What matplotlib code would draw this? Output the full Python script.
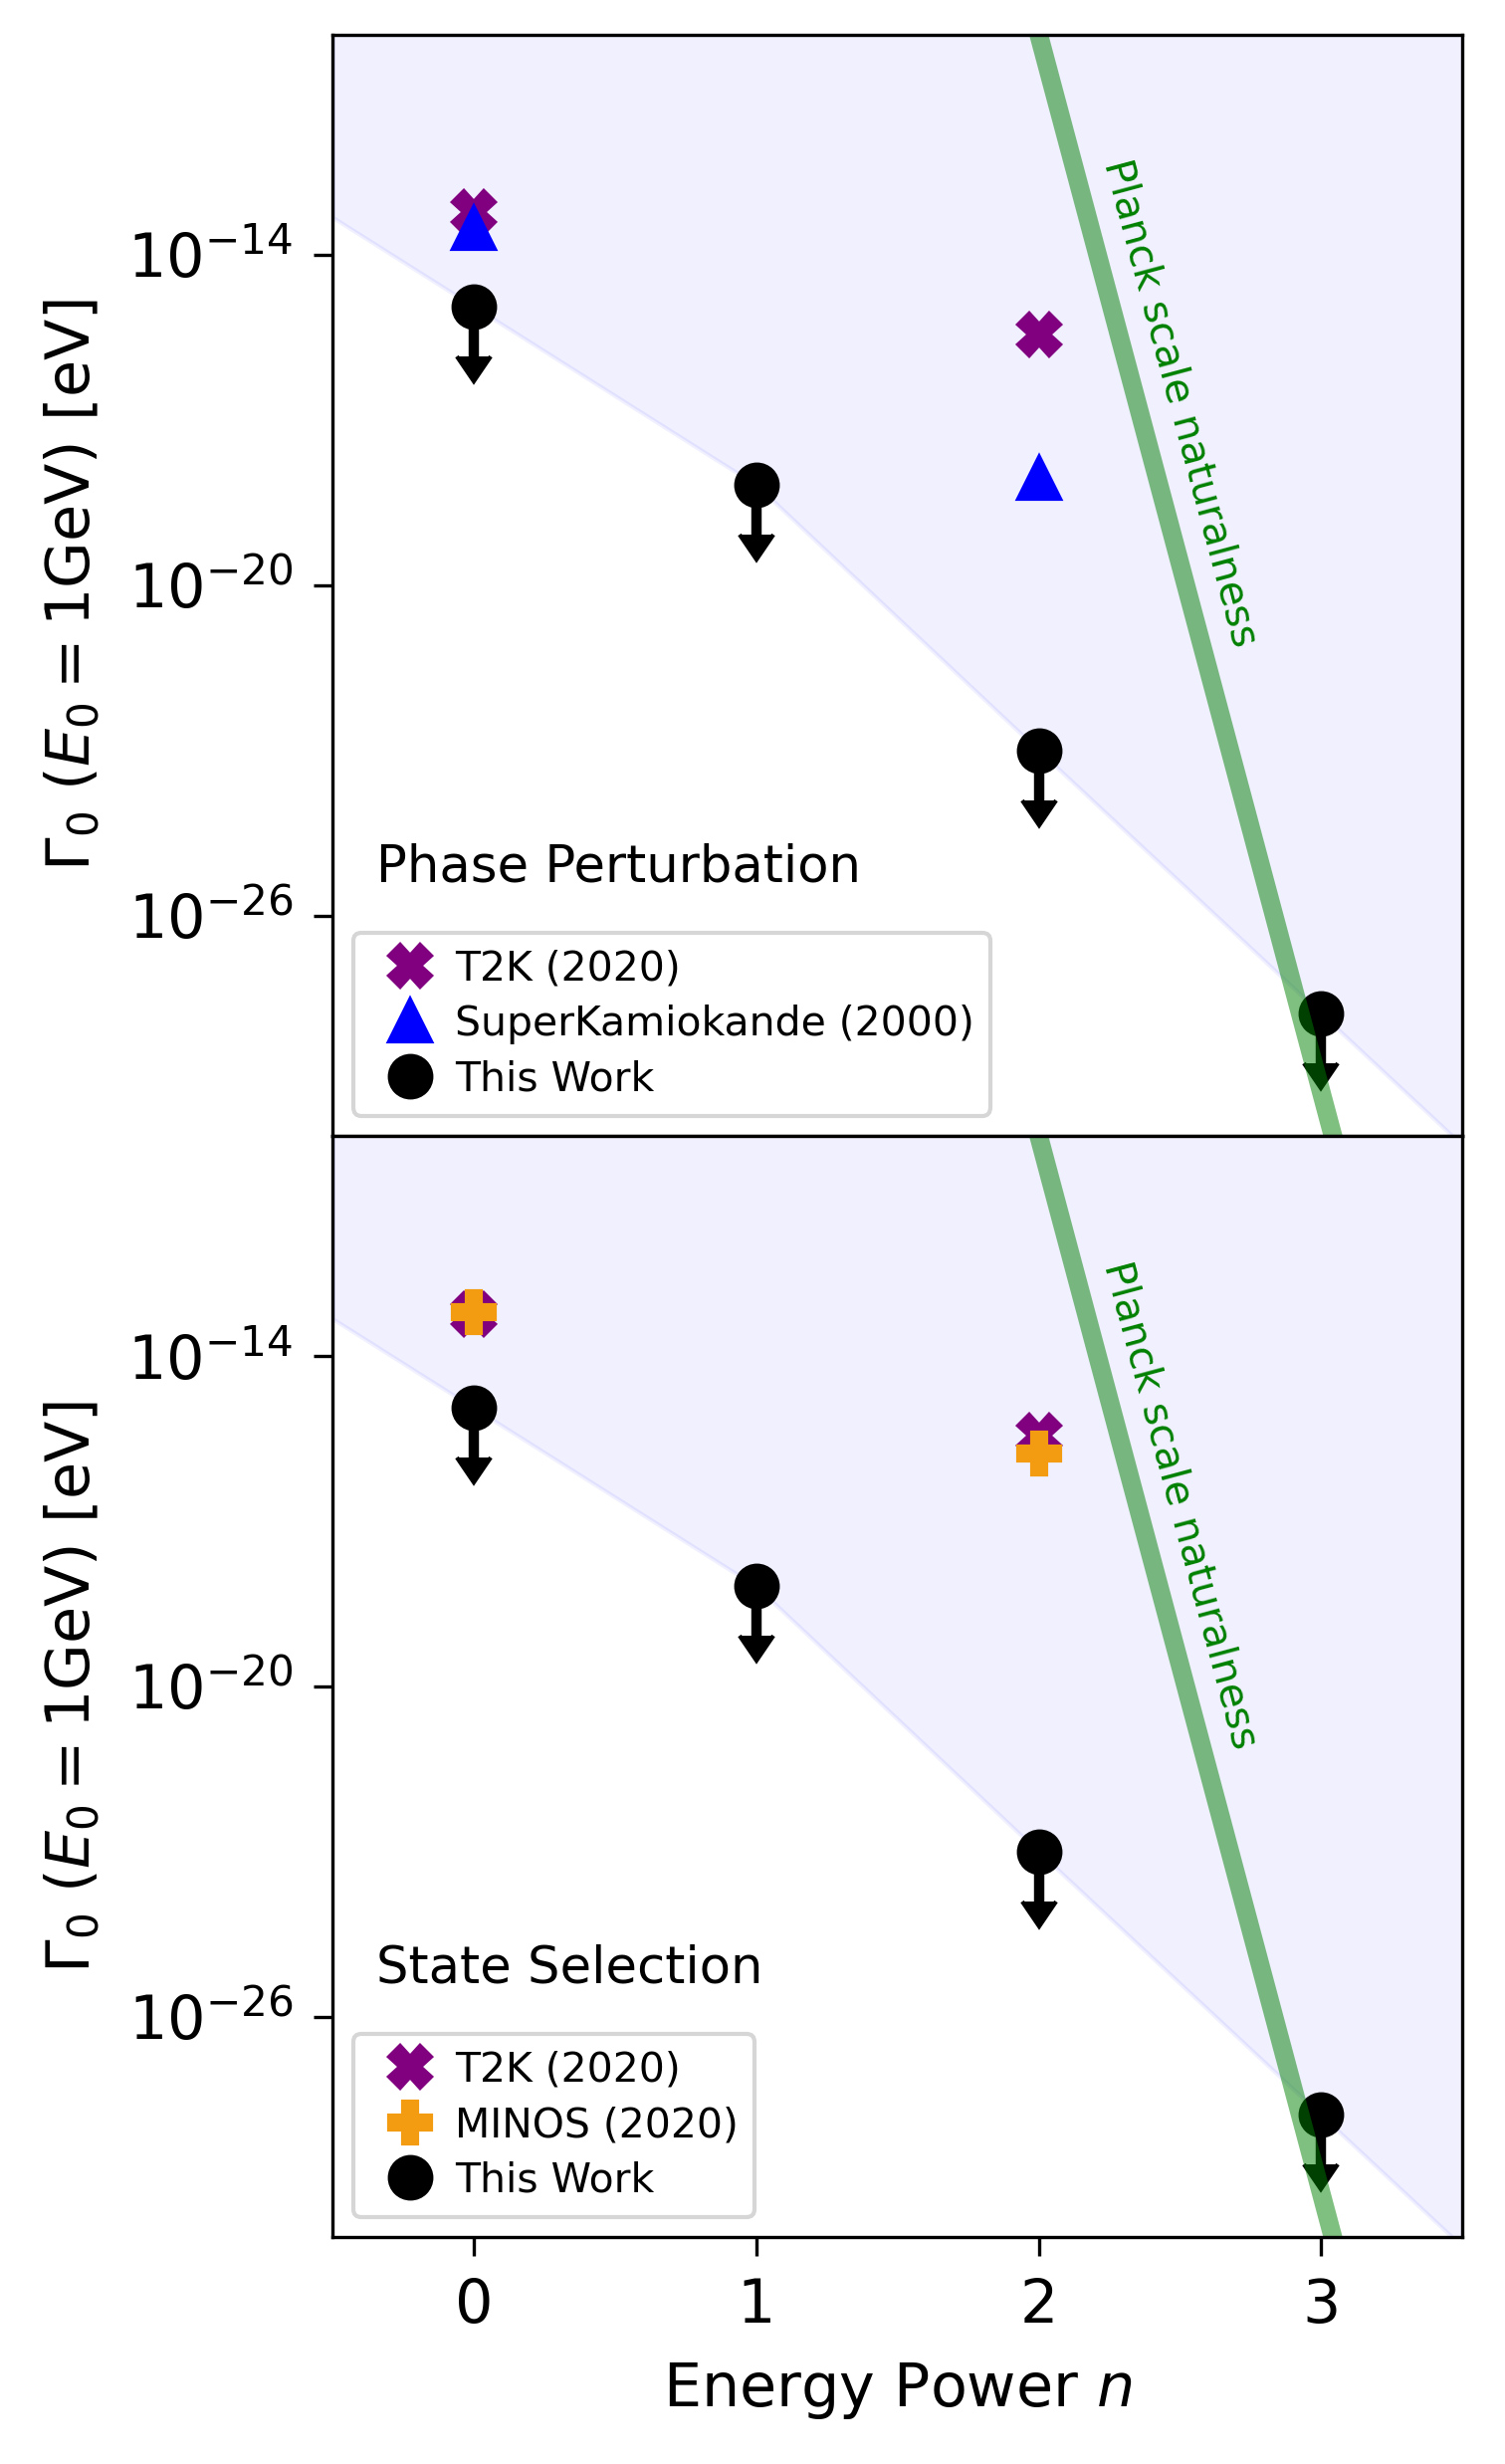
import numpy as np
import matplotlib
matplotlib.use("Agg")
import matplotlib.pyplot as plt
from matplotlib.ticker import NullLocator

# energy power n
n_this = [0, 1, 2, 3]
# upper limits, this work (log10 of Gamma_0 in eV)
log_this = [-14.94, -18.18, -23.0, -27.78]

# T2K (2020)
n_t2k = [0, 2]
log_t2k = [-13.23, -15.45]
# SuperKamiokande (2000), phase perturbation
n_sk = [0, 2]
log_sk = [-13.52, -18.06]
# MINOS (2020), state selection
n_minos = [0, 2]
log_minos = [-13.2, -15.76]

planck_n = [2, 3]
planck_log = [-10.0, -29.2]

arrow_decades = 0.9

panels = [
    ("Phase Perturbation", "SuperKamiokande (2000)", n_sk, log_sk, "blue", "^"),
    ("State Selection", "MINOS (2020)", n_minos, log_minos, "#f39c12", "P"),
]

fig, axes = plt.subplots(2, 1, sharex=True, figsize=(5.04, 8.25))
fig.subplots_adjust(left=0.221, right=0.9717, top=0.986, bottom=0.092, hspace=0)

xlo, xhi = -0.5, 3.5
ylo, yhi = 1e-30, 1e-10

# boundary of excluded region, extended linearly (in log) to the edges
xb = np.array([xlo] + n_this + [xhi], dtype=float)
lb = list(log_this)
left_ext = lb[0] - (lb[1] - lb[0]) * (n_this[0] - xlo)
right_ext = lb[-1] + (lb[-1] - lb[-2]) * (xhi - n_this[-1])
yb = 10.0 ** np.array([left_ext] + lb + [right_ext])

# planck line over full range
slope = (planck_log[1] - planck_log[0]) / (planck_n[1] - planck_n[0])
xp = np.array([xlo, xhi])
yp = 10.0 ** (planck_log[0] + slope * (xp - planck_n[0]))

for ax, (title, other_label, n_o, log_o, col_o, mk_o) in zip(axes, panels):
    y_t2k = 10.0 ** np.array(log_t2k)
    ax.plot(n_t2k, y_t2k, ls="none", marker="X", color="purple",
            markersize=10, label="T2K (2020)")
    ax.plot(n_o, 10.0 ** np.array(log_o), ls="none", marker=mk_o, color=col_o,
            markersize=10, label=other_label)
    y_this = 10.0 ** np.array(log_this)
    ax.errorbar(n_this, y_this, yerr=y_this * (1 - 10 ** -arrow_decades),
                uplims=True, fmt="none", color="k", ecolor="k",
                elinewidth=2.5, capsize=4)
    ax.plot(n_this, y_this, ls="none", marker="o", color="k", markersize=10,
            label="This Work")

    ax.fill_between(xb, yb, yhi * 10, color="blue", alpha=0.06)
    ax.plot(xp, yp, color="green", lw=4.5, alpha=0.5)

    ax.text(2.5, 10 ** -16.7, "Planck scale naturalness", color="green",
            fontsize=9.8, rotation=-75, rotation_mode="anchor",
            ha="center", va="center")

    ax.set_yscale("log")
    ax.set_xlim(xlo, xhi)
    ax.set_ylim(ylo, yhi)
    ax.set_yticks([1e-26, 1e-20, 1e-14])
    ax.yaxis.set_minor_locator(NullLocator())
    ax.tick_params(labelsize=14.5, length=4.5, pad=5)
    ax.set_ylabel(r"$\Gamma_0$ ($E_0 = 1$GeV) [eV]", fontsize=14.5, labelpad=6)

    ax.text(0.039, 0.231, title, transform=ax.transAxes, fontsize=12.3,
            va="baseline", ha="left")
    ax.legend(loc="lower left", fontsize=9.8, handlelength=2.0,
              handletextpad=0.1, labelspacing=0.38)

axes[1].set_xticks([0, 1, 2, 3])
axes[1].set_xlabel(r"Energy Power $n$", fontsize=14.5, labelpad=6)

fig.savefig("out.png", dpi=300)
